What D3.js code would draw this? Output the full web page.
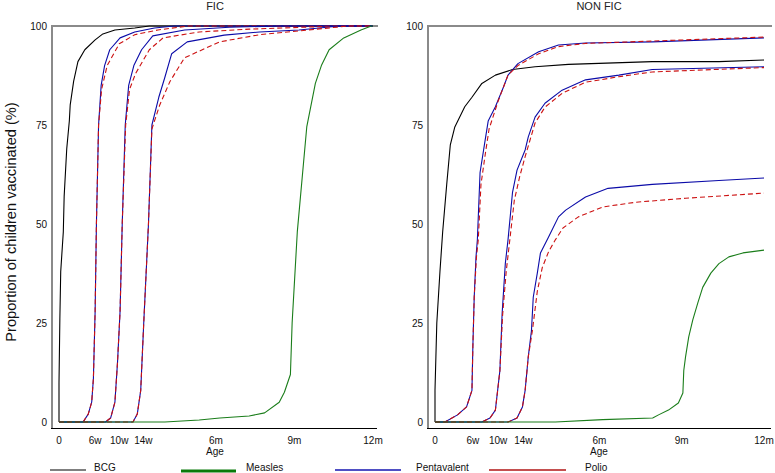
<!DOCTYPE html>
<html><head><meta charset="utf-8">
<script src="https://cdn.jsdelivr.net/npm/d3@7"></script>
<style>body{margin:0;background:#fff}svg{display:block;font-family:"Liberation Sans",Arial,sans-serif}</style>
</head><body>
<svg id="c" width="775" height="473"></svg>
<script>
// ---- data: [age in days, % vaccinated] ----
const panels = ["FIC", "NON FIC"];
const xTickValues = [0, 42, 70, 98, 182.5, 273.75, 365];
const xTickLabels = ["0", "6w", "10w", "14w", "6m", "9m", "12m"];
const yTickValues = [0, 25, 50, 75, 100];
const seriesNames = ["BCG", "Measles", "Pentavalent", "Polio"];

// FIC
const ficBCG = [[0,0],[0,10],[1,26],[2,38],[5,48],[6,57],[9,69],[12,76],[13,80],[17,86],[22,91],[30,94],[42,96.5],[51,98],[65,99],[88,99.5],[105,100],[365,100]];
const ficPenta1 = [[0,0],[28,0],[34,2],[38,5],[40,11],[42,28],[43.5,50],[46,75],[49,85],[53,90],[59,94],[71,97],[88,98.5],[111,99.5],[134,100],[365,100]];
const ficPolio1 = [[0,0],[28,0],[34,2],[38,5],[40,11],[42,28],[43.5,50],[46,75],[49.5,84],[56,90],[70,95.5],[88,97.8],[115,99],[150,100],[365,100]];
const ficPenta2 = [[0,0],[54,0],[60,1],[65,5],[68,15],[71,28],[73.5,50],[77,75],[81,85],[87,90],[96,94],[109,97.5],[146,99],[198,99.7],[256,100],[365,100]];
const ficPolio2 = [[0,0],[54,0],[60,1],[65,5],[68,15],[71,28],[73.5,50],[77.5,75],[82,84],[89,88],[105,94],[121,97],[163,98.5],[221,99.2],[325,100],[365,100]];
const ficPenta3 = [[0,0],[86,0],[91,2],[95,8],[98.5,25],[104,50],[108,75],[116,82],[123,87],[131,93],[149,96],[192,97.7],[233,98.5],[279,99],[326,100],[365,100]];
const ficPolio3 = [[0,0],[86,0],[91,2],[95,8],[98.5,25],[104,50],[108,74],[117,80],[129,86],[146,92],[187,96],[233,97.8],[290,99],[337,100],[365,100]];
const ficMeasles = [[0,0],[123,0],[163,0.5],[187,1],[221,1.5],[239,2.3],[256,5],[262,7.5],[269,12],[271,25],[277,48],[288,74.5],[298,85.5],[305,90],[314,94],[331,97],[351,99],[363,100],[365,100]];

// NON FIC
const nonBCG = [[0,0],[0,8],[2,25],[5.5,38],[8.5,48],[13,60],[17,70],[22,74.5],[33,79.6],[41,82],[52,85.5],[67,87.6],[86,89],[111,89.7],[148,90.3],[241,91],[315,91],[365,91.4]];
const nonPenta1 = [[0,0],[11,0],[25,1.8],[35,3.8],[41,8],[42,19],[43.5,31.5],[45.5,41.7],[47,46],[50,63],[55.5,71],[59,76],[67,79.6],[76,84.6],[81,87.6],[92,90.5],[115,93.5],[137,95.2],[167,95.7],[241,96],[365,97]];
const nonPolio1 = [[0,0],[11,0],[25,1.8],[35,3.8],[41,8],[42,19],[43.5,31.5],[46,41.7],[48,46],[51,60],[56,68],[60,74],[70,81],[81,87.6],[92,90],[115,93],[137,94.8],[167,95.6],[241,96.2],[365,97.2]];
const nonPenta2 = [[0,0],[52,0],[61,1],[67,3],[72,13],[74.5,27.5],[78,40],[81,46],[86,58],[91,63.6],[100,68.7],[103.5,72],[111,77],[122,80.5],[141,83.8],[167,86.4],[204,87.6],[241,89],[365,89.7]];
const nonPolio2 = [[0,0],[52,0],[61,1],[67,3],[72,13],[75,27],[79,38],[83,46],[88,56],[94,62],[100,67],[111,75.5],[122,79.5],[141,83],[167,85.8],[204,87.2],[241,88.4],[365,89.5]];
const nonPenta3 = [[0,0],[81,0],[91,1],[97,3.8],[100,8],[103.5,16.5],[107,23],[109,31.5],[113.5,37.6],[117,42.7],[126,46.7],[137,51.8],[145,53.5],[167,56.8],[192,59],[241,60],[315,61],[365,61.6]];
const nonPolio3 = [[0,0],[81,0],[91,1],[97,3.8],[100,8],[103.5,16.5],[108,23],[113.5,33],[119,39],[126,43],[133.5,46],[142,49],[159,51.8],[186,54.3],[223,55.5],[278,56.5],[365,57.8]];
const nonMeasles = [[0,0],[133.5,0],[186,0.6],[241.5,1],[248,1.8],[259,3],[270,4.8],[275,7.3],[276,13],[278,16.5],[281.5,21.5],[286,25.8],[291.5,30],[297,34],[306,37.6],[315,40],[326,41.7],[341.6,42.7],[365,43.4]];

// ---- styles ----
const colors = {BCG:"#000000", Measles:"#1a7d1a", Pentavalent:"#0b0ba8", Polio:"#cc1111"};
const svg = d3.select("#c");

const layout = [
  {title:"FIC", xr:[59,373], axisX:52, lineEnd:378, cx:215,
   series:[["BCG",ficBCG],["Pentavalent",ficPenta1],["Polio",ficPolio1],["Pentavalent",ficPenta2],["Polio",ficPolio2],["Pentavalent",ficPenta3],["Polio",ficPolio3],["Measles",ficMeasles]]},
  {title:"NON FIC", xr:[435,764], axisX:428, lineEnd:772, cx:599,
   series:[["BCG",nonBCG],["Pentavalent",nonPenta1],["Polio",nonPolio1],["Pentavalent",nonPenta2],["Polio",nonPolio2],["Pentavalent",nonPenta3],["Polio",nonPolio3],["Measles",nonMeasles]]}
];

const y = d3.scaleLinear().domain([0,100]).range([422,26]);

layout.forEach((p,i) => {
  const x = d3.scaleLinear().domain([0,365]).range(p.xr);
  const g = svg.append("g");
  // frame lines
  g.append("line").attr("x1",p.axisX).attr("x2",p.lineEnd).attr("y1",y(100)).attr("y2",y(100))
    .attr("stroke","#8a8a8a").attr("stroke-width",2);
  g.append("line").attr("x1",p.axisX).attr("x2",p.axisX).attr("y1",y(100)-1).attr("y2",428)
    .attr("stroke","#8a8a8a").attr("stroke-width",2);
  g.append("line").attr("x1",p.axisX-1).attr("x2",p.lineEnd-1).attr("y1",428.5).attr("y2",428.5)
    .attr("stroke","#000").attr("stroke-width",1.2);
  // y tick labels
  g.selectAll(".yt").data(yTickValues).enter().append("text")
    .attr("x",p.axisX-5).attr("y",d=>y(d)+3.5).attr("text-anchor","end")
    .attr("font-size",10).attr("fill","#111").text(d=>d);
  // x tick labels
  g.selectAll(".xt").data(xTickValues).enter().append("text")
    .attr("x",d=>x(d)).attr("y",444).attr("text-anchor","middle")
    .attr("font-size",10).attr("fill","#111").text((d,k)=>xTickLabels[k]);
  g.append("text").attr("x",p.cx).attr("y",455).attr("text-anchor","middle")
    .attr("font-size",10).attr("fill","#111").text("Age");
  g.append("text").attr("x",p.cx).attr("y",9.5).attr("text-anchor","middle")
    .attr("font-size",11).attr("fill","#222").text(p.title);
  const line = d3.line().x(d=>x(d[0])).y(d=>y(d[1])).curve(d3.curveLinear);
  p.series.forEach(([name,data]) => {
    g.append("path").attr("d",line(data)).attr("fill","none")
      .attr("stroke",colors[name]).attr("stroke-width",1.1)
      .attr("stroke-dasharray", name==="Polio" ? "5,3" : null)
      .attr("stroke-linejoin","round");
  });
});

// y axis label
svg.append("text").attr("transform","translate(16,222) rotate(-90)")
  .attr("text-anchor","middle").attr("font-size",14.6).attr("fill","#111")
  .text("Proportion of children vaccinated (%)");

// legend
const legend = [
  {name:"BCG", x1:50, x2:86, tx:94, w:1.2, ly:470, c:"#000"},
  {name:"Measles", x1:181, x2:236, tx:246, w:3, ly:471, c:"#0a7a0a"},
  {name:"Pentavalent", x1:335, x2:401, tx:416, w:1.3, ly:470, c:"#1515b0"},
  {name:"Polio", x1:489, x2:566, tx:585, w:1.3, ly:470, c:"#b01515"}
];
const lg = svg.append("g");
lg.selectAll("line").data(legend).enter().append("line")
  .attr("x1",d=>d.x1).attr("x2",d=>d.x2).attr("y1",d=>d.ly).attr("y2",d=>d.ly)
  .attr("stroke",d=>d.c).attr("stroke-width",d=>d.w);
lg.selectAll("text").data(legend).enter().append("text")
  .attr("x",d=>d.tx).attr("y",471).attr("font-size",10).attr("fill","#111")
  .text(d=>d.name);
</script>
</body></html>
